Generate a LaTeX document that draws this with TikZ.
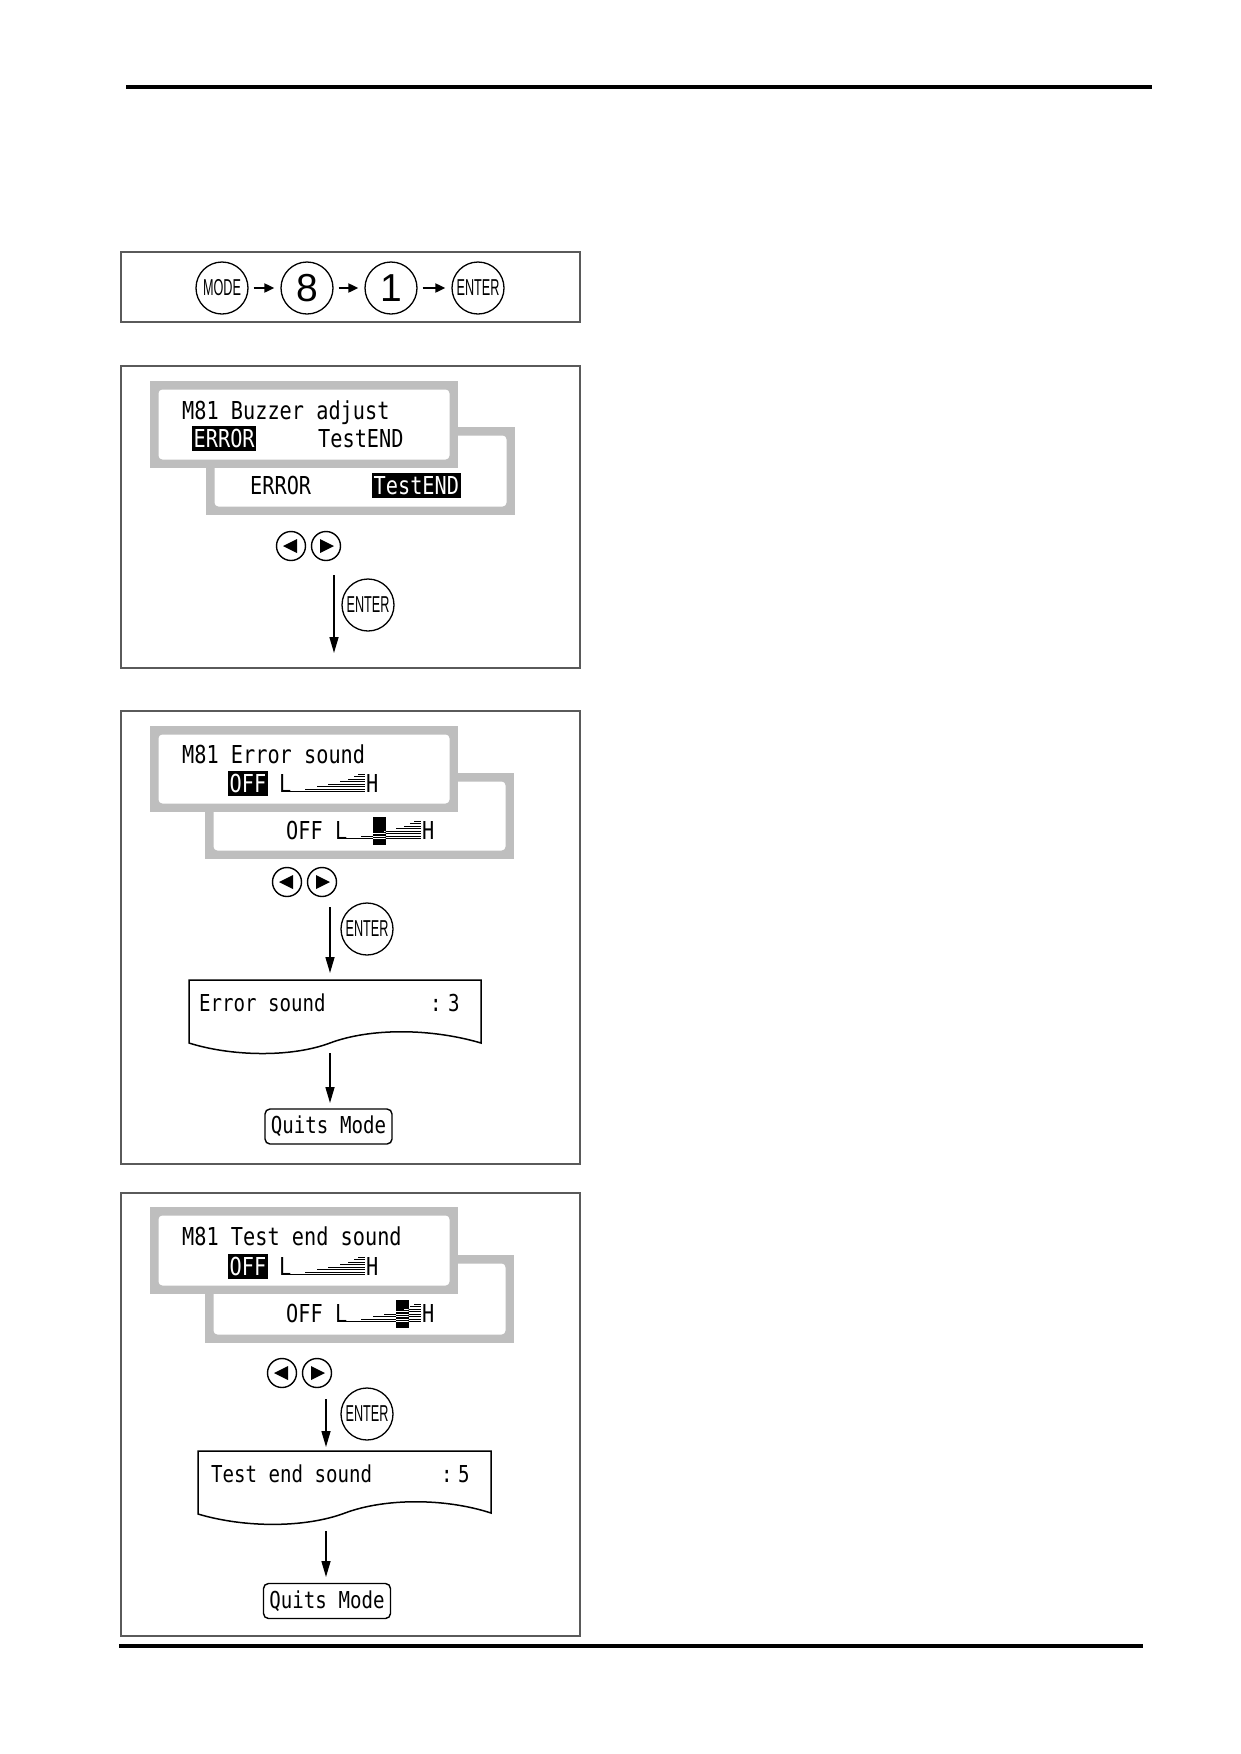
\documentclass[tikz,border=0pt]{standalone}
\usepackage{fontspec}
\usetikzlibrary{arrows.meta}
\newfontfamily\lcdfont[FakeStretch=0.82]{DejaVu Sans Mono}
\newfontfamily\btnfont[FakeStretch=0.55]{Liberation Sans}
\newfontfamily\numfont{Liberation Sans}
\definecolor{panelgray}{RGB}{190,190,190}
\definecolor{boxline}{RGB}{90,90,90}
\tikzset{
  frame/.style={draw=boxline, line width=1.5pt},
  lcd/.style={font=\lcdfont\fontsize{24.7}{26}\selectfont, inner sep=0pt, text height=18pt, text depth=0pt, anchor=west},
  hl/.style={lcd, fill=black, text=white, inner xsep=1.5pt, inner ysep=3.5pt},
  pr/.style={font=\lcdfont\fontsize{23.3}{24}\selectfont, inner sep=0pt, text height=17pt, text depth=0pt, anchor=west},
  btn/.style={circle, draw, line width=1.3pt, minimum size=52pt, inner sep=0pt, font=\btnfont\fontsize{23}{23}\selectfont},
  numbtn/.style={btn, font=\numfont\fontsize{39}{39}\selectfont},
  arrbtn/.style={circle, draw, line width=1.4pt, minimum size=29pt, inner sep=0pt},
  rarr/.style={line width=2pt, -{Triangle[length=10pt,width=9pt]}, shorten <=5pt, shorten >=6pt},
  darr/.style={line width=1.5pt, -{Triangle[length=16pt,width=9pt]}},
  quitbox/.style={draw, line width=1.4pt, rounded corners=5pt, minimum width=127pt, minimum height=35pt, inner sep=0pt, font=\lcdfont\fontsize{23.3}{24}\selectfont},
  barln/.style={line width=0.9pt}
}
\newcommand\lcdpanel[4]{%
  \fill[panelgray] (#1,#2) rectangle (#3,#4);
  \fill[white, rounded corners=4pt] (#1+8.5,#2+8.5) rectangle (#3-8.5,#4-8.5);
}
\newcommand\lvlbar[3]{%
  \node[lcd] at (#1,#2) {L};
  \node[lcd] at (#1+87,#2) {H};
  \foreach \s [count=\k from 0] in {0,15,27,38,50,58,64,68}
    \draw[barln] (#1+11+\s,#2+8.5-2.5*\k) -- (#1+86,#2+8.5-2.5*\k);
  \ifnum#3>0
    \pgfmathsetmacro\bs{{0,15,27,38,50,58,64,68}[#3-1]}
    \fill (#1+11+\bs,#2-13) rectangle ++(12.5,28);
    \begin{scope}
      \clip (#1+11+\bs,#2-13) rectangle ++(12.5,28);
      \foreach \s [count=\k from 0] in {0,15,27,38,50,58,64,68}
        \draw[barln, white] (#1+11+\s,#2+8.5-2.5*\k) -- (#1+86,#2+8.5-2.5*\k);
    \end{scope}
  \fi
}
\newcommand\lbtn[2]{%
  \fill ([xshift=-8pt]#1.center) -- ([xshift=6pt,yshift=7pt]#1.center) -- ([xshift=6pt,yshift=-7pt]#1.center) -- cycle;
  \fill ([xshift=8pt]#2.center) -- ([xshift=-6pt,yshift=7pt]#2.center) -- ([xshift=-6pt,yshift=-7pt]#2.center) -- cycle;
}
\begin{document}
\begin{tikzpicture}[x=1pt,y=-1pt]
\fill[white] (0,0) rectangle (1240,1754);
\useasboundingbox (0,0) rectangle (1240,1754);

% page rules
\draw[line width=3.5pt] (126,87) -- (1152,87);
\draw[line width=3.5pt] (119,1646) -- (1143,1646);

% ---------- box 1 ----------
\draw[frame] (121,252) rectangle (580,322);
\node[btn] (mode) at (222,288) {MODE};
\node[numbtn] (eight) at (307,288) {8};
\node[numbtn] (one) at (391,288) {1};
\node[btn] (enter0) at (478,288) {ENTER};
\draw[rarr] (mode) -- (eight);
\draw[rarr] (eight) -- (one);
\draw[rarr] (one) -- (enter0);

% ---------- box 2 ----------
\draw[frame] (121,366) rectangle (580,668);
\lcdpanel{206}{427}{515}{515}
\lcdpanel{150}{381}{458}{468}
\node[lcd] (b2t1) at (182,410) {M81 Buzzer adjust};
\node[hl] (b2h1) at (192,438) {ERROR};
\node[lcd] (b2t2) at (318,438) {TestEND};
\node[lcd] (b2t3) at (250,485) {ERROR};
\node[hl] (b2h2) at (372,485) {TestEND};
\node[arrbtn] (b2l) at (291,546) {};
\node[arrbtn] (b2r) at (326,546) {};
\lbtn{b2l}{b2r}
\node[btn] (b2e) at (368,605) {ENTER};
\coordinate (b2s) at (334,575);
\coordinate (b2d) at (334,653);
\draw[darr] (b2s) -- (b2d);

% ---------- box 3 ----------
\draw[frame] (121,711) rectangle (580,1164);
\lcdpanel{205}{773}{514}{859}
\lcdpanel{150}{726}{458}{812}
\node[lcd] (b3t1) at (182,754) {M81 Error sound};
\node[hl] (b3h1) at (228,783) {OFF};
\lvlbar{279}{783}{0}
\node[lcd] (b3t2) at (286,830) {OFF};
\lvlbar{335}{830}{3}
\node[arrbtn] (b3l) at (287,882) {};
\node[arrbtn] (b3r) at (322,882) {};
\lbtn{b3l}{b3r}
\node[btn] (b3e) at (367,929) {ENTER};
\coordinate (b3s) at (330,907);
\coordinate (b3d) at (330,973);
\draw[darr] (b3s) -- (b3d);
\draw[line width=1.5pt] (189,980) -- (481,980) -- (481,1043)
  .. controls (430,1028) and (370,1028) .. (330,1043)
  .. controls (290,1058) and (230,1056) .. (189,1043) -- cycle;
\node[pr] (b3p1) at (199,1003) {Error sound};
\node[pr] (b3p2) at (430,1003) {:};
\node[pr] (b3p3) at (448,1003) {3};
\coordinate (b3s2) at (330,1053);
\node[quitbox] (q3) at (328.5,1126.5) {Quits Mode};
\coordinate (b3d2) at (330,1103);
\draw[darr] (b3s2) -- (b3d2);

% ---------- box 4 ----------
\draw[frame] (121,1193) rectangle (580,1636);
\lcdpanel{205}{1255}{514}{1343}
\lcdpanel{150}{1207}{458}{1294}
\node[lcd] (b4t1) at (182,1236) {M81 Test end sound};
\node[hl] (b4h1) at (228,1266) {OFF};
\lvlbar{279}{1266}{0}
\node[lcd] (b4t2) at (286,1313) {OFF};
\lvlbar{335}{1313}{5}
\node[arrbtn] (b4l) at (282,1373) {};
\node[arrbtn] (b4r) at (317,1373) {};
\lbtn{b4l}{b4r}
\node[btn] (b4e) at (367,1414) {ENTER};
\coordinate (b4s) at (326,1399);
\coordinate (b4d) at (326,1447);
\draw[darr] (b4s) -- (b4d);
\draw[line width=1.5pt] (198,1451) -- (491,1451) -- (491,1513)
  .. controls (445,1498) and (385,1498) .. (345,1513)
  .. controls (305,1528) and (245,1528) .. (198,1514) -- cycle;
\node[pr] (b4p1) at (211,1474) {Test end sound};
\node[pr] (b4p2) at (441,1474) {:};
\node[pr] (b4p3) at (458,1474) {5};
\coordinate (b4s2) at (326,1531);
\node[quitbox] (q4) at (327,1601) {Quits Mode};
\coordinate (b4d2) at (326,1577);
\draw[darr] (b4s2) -- (b4d2);
\end{tikzpicture}
\end{document}
